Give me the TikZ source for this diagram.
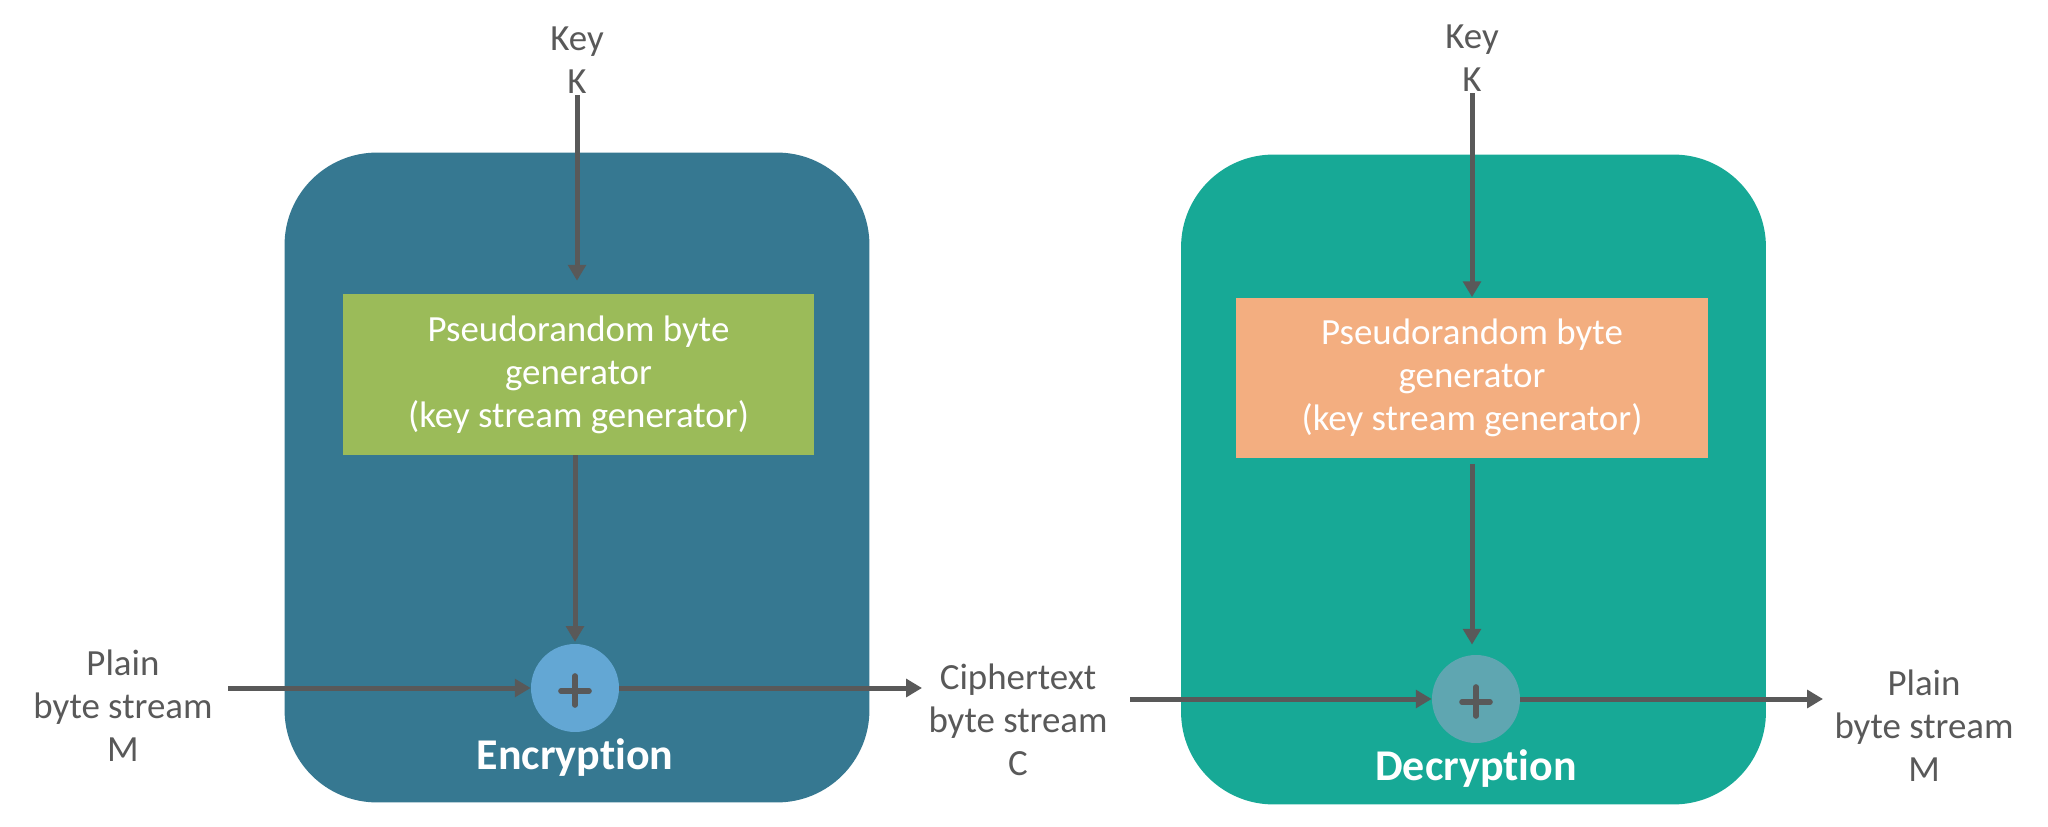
\documentclass[tikz,border=0pt]{standalone}
\usepackage{fontspec}
\setmainfont{Carlito}[Ligatures=NoCommon]
\usepackage{tikz}
\usetikzlibrary{arrows.meta, positioning}
\definecolor{enccol}{HTML}{367891}
\definecolor{deccol}{HTML}{17A996}
\definecolor{gengreen}{HTML}{9BBB59}
\definecolor{genorange}{HTML}{F3AE80}
\definecolor{xorblue}{HTML}{63A7D4}
\definecolor{xorteal}{HTML}{5FA6B1}
\definecolor{linegray}{HTML}{595959}
\tikzset{
    stage/.style={rectangle, rounded corners=1.85cm, minimum width=11.7cm, minimum height=13cm, inner sep=0pt},
    genblock/.style={rectangle, text=white, align=center, minimum width=9.44cm, minimum height=3.22cm, font=\fontsize{21}{24.5}\selectfont},
    xor/.style={circle, minimum size=1.76cm, inner sep=0pt},
    tag/.style={text=linegray, align=center, inner sep=1pt, font=\fontsize{21}{24.5}\selectfont},
    stagetitle/.style={text=white, font=\fontsize{25}{30}\selectfont\bfseries},
    arrow/.style={line width=2.85pt, draw=linegray, -{Triangle[length=9pt, width=10pt]}},
    plus/.style={line width=3.2pt, draw=linegray, line cap=round}
}
\begin{document}
\begin{tikzpicture}[x=0.02cm, y=-0.02cm]
            \useasboundingbox (0,0) rectangle (2048,827);
            \node[stage, fill=enccol] (enc) at (577,477.5) {};
            \node[stage, fill=deccol] (dec) at (1473.5,479.5) {};
            \node[genblock, fill=gengreen] (gen1) at (578.5,374.5) {Pseudorandom byte\\generator\\(key stream generator)};
            \node[genblock, fill=genorange] (gen2) at (1472,378) {Pseudorandom byte\\generator\\(key stream generator)};
            \node[xor, fill=xorblue] (xor1) at (575,688) {};
            \node[xor, fill=xorteal] (xor2) at (1476,699) {};
            \node[stagetitle, below=0pt of xor1] (enctitle) {Encryption};
            \node[stagetitle, below=0pt of xor2] (dectitle) {Decryption};
            \node[tag] (key1) at (577,60) {Key\\K};
            \node[tag] (key2) at (1472,58) {Key\\K};
            \node[tag] (plain1) at (123,706) {Plain\\byte stream\\M};
            \node[tag] (cipher) at (1018,720) {Ciphertext\\byte stream\\C};
            \node[tag] (plain2) at (1924,726) {Plain\\byte stream\\M};
            \coordinate (in1) at (228,688);
            \coordinate (out1) at (922,688);
            \coordinate (in2) at (1130,699);
            \coordinate (out2) at (1823,699);
            \draw[arrow, shorten >=0.26cm] (key1.south) -- (key1.south |- gen1.north);
            \draw[arrow] (key2.south) -- (key2.south |- gen2.north);
            \draw[arrow, shorten >=1pt] (gen1.south -| xor1) -- (xor1);
            \draw[arrow, shorten <=0.1cm, shorten >=0.2cm] (gen2.south) -- (gen2.south |- xor2.north);
            \draw[arrow] (in1) -- (xor1);
            \draw[arrow] (xor1) -- (out1);
            \draw[arrow] (in2) -- (xor2);
            \draw[arrow] (xor2) -- (out2);
            \draw[plus] (xor1.center) +(-14,3) -- +(14,3) +(0,-12) -- +(0,17);
            \draw[plus] (xor2.center) +(-14,3) -- +(14,3) +(0,-12) -- +(0,17);
        \end{tikzpicture}
\end{document}
